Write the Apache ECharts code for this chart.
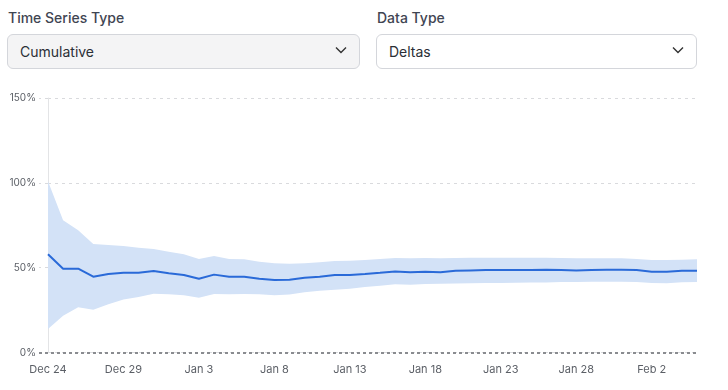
<!DOCTYPE html>
<html>
<head>
<meta charset="utf-8">
<script src="https://cdn.jsdelivr.net/npm/echarts@6/dist/echarts.min.js"></script>
<style>
  html, body { margin: 0; padding: 0; width: 728px; height: 390px; background: #fff; font-family: Inter, "Noto Sans", sans-serif; overflow: hidden; }
  .ctrl { position: absolute; top: 0; }
  .lbl { position: absolute; top: 9px; font-size: 14px; font-weight: 500; color: #3f4552; white-space: nowrap; }
  .sel { position: absolute; top: 34px; height: 33px; border: 1px solid #d4d6db; border-radius: 6px; box-sizing: border-box; font-size: 14px; color: #2b2f36; line-height: 31px; padding-left: 12px; }
  .sel svg { position: absolute; right: 12px; top: 11px; }
  #chart { position: absolute; left: 0; top: 80px; width: 728px; height: 310px; }
</style>
</head>
<body>
<div class="lbl" style="left:8px;">Time Series Type</div>
<div class="sel" style="left:7px; width:353px; background:#f4f4f5; height:35px; line-height:33px;">Cumulative
  <svg width="12" height="8" viewBox="0 0 12 8"><path d="M1 1.5 L6 6.5 L11 1.5" fill="none" stroke="#333" stroke-width="1.4"/></svg>
</div>
<div class="lbl" style="left:377px;">Data Type</div>
<div class="sel" style="left:376px; width:321px; background:#fff; height:35px; line-height:33px;">Deltas
  <svg width="12" height="8" viewBox="0 0 12 8"><path d="M1 1.5 L6 6.5 L11 1.5" fill="none" stroke="#333" stroke-width="1.4"/></svg>
</div>
<div id="chart"></div>
<script>
const dates = ["Dec 24","Dec 25","Dec 26","Dec 27","Dec 28","Dec 29","Dec 30","Dec 31","Jan 1","Jan 2","Jan 3","Jan 4","Jan 5","Jan 6","Jan 7","Jan 8","Jan 9","Jan 10","Jan 11","Jan 12","Jan 13","Jan 14","Jan 15","Jan 16","Jan 17","Jan 18","Jan 19","Jan 20","Jan 21","Jan 22","Jan 23","Jan 24","Jan 25","Jan 26","Jan 27","Jan 28","Jan 29","Jan 30","Jan 31","Feb 1","Feb 2","Feb 3","Feb 4","Feb 5"];
const meanValues = [57.9,49.4,49.4,44.7,46.3,47.0,47.0,48.0,46.7,45.7,43.5,45.9,44.7,44.7,43.5,42.7,42.9,44.1,44.7,45.7,45.7,46.3,47.0,47.8,47.3,47.6,47.3,48.2,48.4,48.6,48.6,48.6,48.6,48.8,48.6,48.4,48.6,48.8,48.8,48.6,47.6,47.6,48.2,48.2];
const upperValues = [101,78,72,64,63.4,62.8,61.8,61,59.4,57.9,55.1,56.9,55.1,55.0,53.5,52.6,52.3,52.6,53.2,53.9,54.1,54.5,55.1,55.7,55.5,55.7,55.6,55.7,55.8,55.8,55.8,55.8,55.9,55.9,55.7,55.6,55.5,55.6,55.5,55.1,54.5,54.5,54.7,54.9];
const lowerValues = [13.8,21.7,26.6,25.2,28.4,31.3,32.7,34.7,34.3,33.7,32.3,34.5,34.3,34.5,34.3,33.7,34.2,35.5,36.4,37.0,37.6,38.6,39.4,40.2,40.0,40.4,40.5,40.7,40.8,40.9,41.0,41.1,41.2,41.3,41.5,41.6,41.7,41.7,41.7,41.5,41.0,40.8,41.4,41.5];
const yTicks = [0, 50, 100, 150];

const bandWidth = upperValues.map((u, i) => +(u - lowerValues[i]).toFixed(2));

const chart = echarts.init(document.getElementById('chart'), null, { renderer: 'canvas' });
chart.setOption({
  animation: false,
  grid: { left: 48, right: 31, top: 18, bottom: 37.5, containLabel: false },
  xAxis: {
    type: 'category',
    data: dates,
    boundaryGap: false,
    axisLine: { show: false },
    axisTick: { show: false },
    axisLabel: { interval: 4, color: '#5b5f66', fontSize: 11, fontFamily: 'Inter', margin: 12 }
  },
  yAxis: {
    type: 'value',
    min: yTicks[0], max: yTicks[yTicks.length - 1], interval: 50,
    axisLine: { show: true, lineStyle: { color: '#e3e4e6', width: 1 } },
    axisTick: { show: true, length: 9, lineStyle: { color: '#d9dadd', type: [3, 4] } },
    axisLabel: { formatter: v => v + '%', color: '#5b5f66', fontSize: 10, fontFamily: 'Inter', margin: 12 },
    splitLine: { show: true, lineStyle: { color: '#d9dadd', type: [3, 4], width: 1 } }
  },
  series: [
    { name: 'lower', type: 'line', data: lowerValues, stack: 'band', symbol: 'none', lineStyle: { opacity: 0 }, silent: true, z: 1 },
    { name: 'band', type: 'line', data: bandWidth, stack: 'band', symbol: 'none', lineStyle: { opacity: 0 }, areaStyle: { color: '#d3e2f7', opacity: 1 }, silent: true, z: 1 },
    { name: 'mean', type: 'line', data: meanValues, symbol: 'none', lineStyle: { color: '#2a6ad8', width: 2 }, z: 3,
      markLine: {
        silent: true, symbol: 'none', label: { show: false },
        lineStyle: { color: '#8a8c90', type: [3, 3], width: 2 },
        data: [[{ coord: [0, 0], x: 39 }, { coord: [dates.length - 1, 0] }]]
      }
    }
  ]
});
</script>
</body>
</html>
